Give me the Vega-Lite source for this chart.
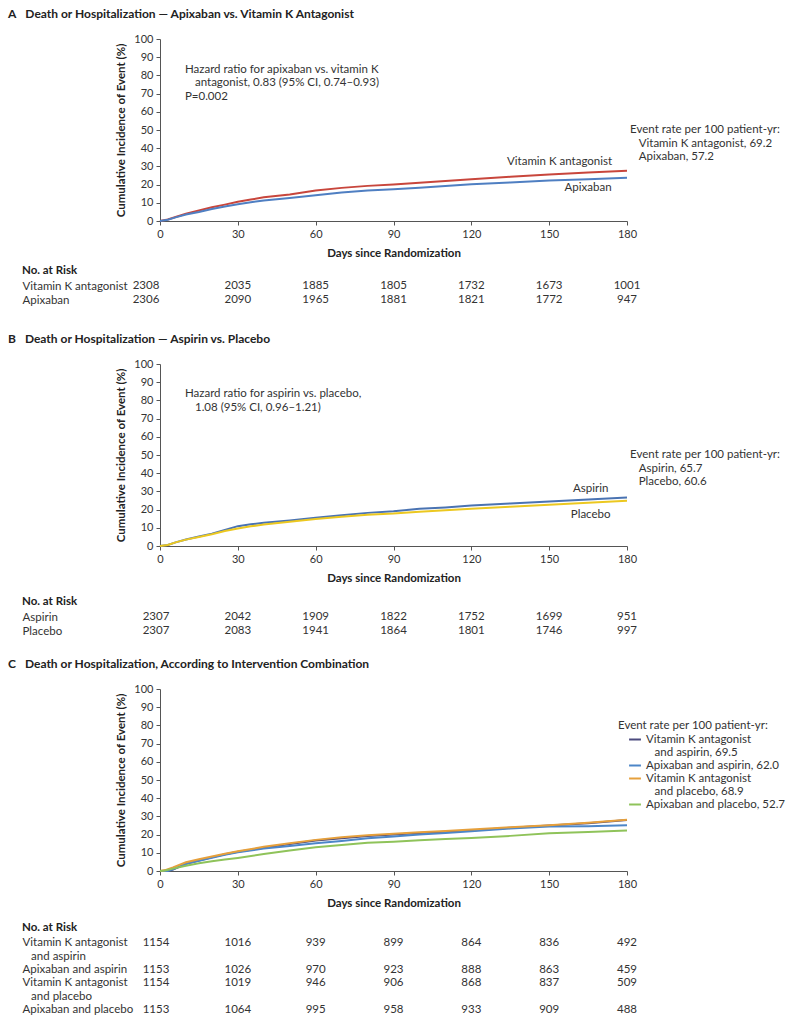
{
  "$schema": "https://vega.github.io/schema/vega-lite/v6.json",
  "background": "white",
  "padding": {"left": 8, "top": 8, "right": 5, "bottom": 5},
  "config": {
    "font": "Lato",
    "view": {"stroke": null},
    "axis": {"labelFont": "Lato", "labelFontSize": 11, "labelColor": "#333", "titleFont": "Lato", "titleFontSize": 11.5, "titleFontWeight": "bold", "titleColor": "#222", "domainColor": "#555", "tickColor": "#555", "tickSize": 4, "grid": false, "labelPadding": 3, "labelFlush": false},
    "axisX": {"titlePadding": 8},
    "axisY": {"titlePadding": 7},
    "title": {"font": "Lato", "fontSize": 12, "fontWeight": "bold", "color": "#222", "anchor": "start", "frame": "group"},
    "text": {"font": "Lato", "fontSize": 11.5, "color": "#333"}
  },
  "datasets": {
    "note": [{}],
    "curvesA": [
      {"group": "Vitamin K antagonist", "day": 0, "pct": 0}, {"group": "Vitamin K antagonist", "day": 3, "pct": 0.8}, {"group": "Vitamin K antagonist", "day": 6, "pct": 2.2}, {"group": "Vitamin K antagonist", "day": 10, "pct": 4.0}, {"group": "Vitamin K antagonist", "day": 15, "pct": 5.8}, {"group": "Vitamin K antagonist", "day": 20, "pct": 7.5}, {"group": "Vitamin K antagonist", "day": 25, "pct": 9.0}, {"group": "Vitamin K antagonist", "day": 30, "pct": 10.6}, {"group": "Vitamin K antagonist", "day": 35, "pct": 11.8}, {"group": "Vitamin K antagonist", "day": 40, "pct": 13.0}, {"group": "Vitamin K antagonist", "day": 50, "pct": 14.5}, {"group": "Vitamin K antagonist", "day": 60, "pct": 16.7}, {"group": "Vitamin K antagonist", "day": 70, "pct": 18.2}, {"group": "Vitamin K antagonist", "day": 80, "pct": 19.3}, {"group": "Vitamin K antagonist", "day": 90, "pct": 20.0}, {"group": "Vitamin K antagonist", "day": 100, "pct": 21.0}, {"group": "Vitamin K antagonist", "day": 110, "pct": 22.0}, {"group": "Vitamin K antagonist", "day": 120, "pct": 22.9}, {"group": "Vitamin K antagonist", "day": 135, "pct": 24.3}, {"group": "Vitamin K antagonist", "day": 150, "pct": 25.5}, {"group": "Vitamin K antagonist", "day": 165, "pct": 26.6}, {"group": "Vitamin K antagonist", "day": 180, "pct": 27.6},
      {"group": "Apixaban", "day": 0, "pct": 0}, {"group": "Apixaban", "day": 3, "pct": 0.7}, {"group": "Apixaban", "day": 6, "pct": 2.0}, {"group": "Apixaban", "day": 10, "pct": 3.6}, {"group": "Apixaban", "day": 15, "pct": 5.0}, {"group": "Apixaban", "day": 20, "pct": 6.6}, {"group": "Apixaban", "day": 25, "pct": 8.0}, {"group": "Apixaban", "day": 30, "pct": 9.2}, {"group": "Apixaban", "day": 35, "pct": 10.3}, {"group": "Apixaban", "day": 40, "pct": 11.3}, {"group": "Apixaban", "day": 50, "pct": 12.6}, {"group": "Apixaban", "day": 60, "pct": 14.1}, {"group": "Apixaban", "day": 70, "pct": 15.6}, {"group": "Apixaban", "day": 80, "pct": 16.7}, {"group": "Apixaban", "day": 90, "pct": 17.4}, {"group": "Apixaban", "day": 100, "pct": 18.3}, {"group": "Apixaban", "day": 110, "pct": 19.2}, {"group": "Apixaban", "day": 120, "pct": 20.2}, {"group": "Apixaban", "day": 135, "pct": 21.2}, {"group": "Apixaban", "day": 150, "pct": 22.2}, {"group": "Apixaban", "day": 165, "pct": 23.0}, {"group": "Apixaban", "day": 180, "pct": 23.7}
    ],
    "curvesB": [
      {"group": "Aspirin", "day": 0, "pct": 0}, {"group": "Aspirin", "day": 3, "pct": 0.6}, {"group": "Aspirin", "day": 6, "pct": 2.0}, {"group": "Aspirin", "day": 10, "pct": 3.6}, {"group": "Aspirin", "day": 15, "pct": 5.2}, {"group": "Aspirin", "day": 20, "pct": 6.8}, {"group": "Aspirin", "day": 25, "pct": 8.8}, {"group": "Aspirin", "day": 30, "pct": 10.9}, {"group": "Aspirin", "day": 35, "pct": 11.9}, {"group": "Aspirin", "day": 40, "pct": 12.8}, {"group": "Aspirin", "day": 50, "pct": 14.0}, {"group": "Aspirin", "day": 60, "pct": 15.5}, {"group": "Aspirin", "day": 70, "pct": 16.9}, {"group": "Aspirin", "day": 80, "pct": 18.2}, {"group": "Aspirin", "day": 90, "pct": 19.1}, {"group": "Aspirin", "day": 100, "pct": 20.4}, {"group": "Aspirin", "day": 110, "pct": 21.2}, {"group": "Aspirin", "day": 120, "pct": 22.2}, {"group": "Aspirin", "day": 135, "pct": 23.4}, {"group": "Aspirin", "day": 150, "pct": 24.5}, {"group": "Aspirin", "day": 165, "pct": 25.5}, {"group": "Aspirin", "day": 180, "pct": 26.7},
      {"group": "Placebo", "day": 0, "pct": 0}, {"group": "Placebo", "day": 3, "pct": 0.6}, {"group": "Placebo", "day": 6, "pct": 2.0}, {"group": "Placebo", "day": 10, "pct": 3.5}, {"group": "Placebo", "day": 15, "pct": 5.0}, {"group": "Placebo", "day": 20, "pct": 6.5}, {"group": "Placebo", "day": 25, "pct": 8.2}, {"group": "Placebo", "day": 30, "pct": 9.6}, {"group": "Placebo", "day": 35, "pct": 10.8}, {"group": "Placebo", "day": 40, "pct": 11.8}, {"group": "Placebo", "day": 50, "pct": 13.3}, {"group": "Placebo", "day": 60, "pct": 14.9}, {"group": "Placebo", "day": 70, "pct": 16.1}, {"group": "Placebo", "day": 80, "pct": 17.2}, {"group": "Placebo", "day": 90, "pct": 17.8}, {"group": "Placebo", "day": 100, "pct": 18.8}, {"group": "Placebo", "day": 110, "pct": 19.7}, {"group": "Placebo", "day": 120, "pct": 20.5}, {"group": "Placebo", "day": 135, "pct": 21.6}, {"group": "Placebo", "day": 150, "pct": 22.7}, {"group": "Placebo", "day": 165, "pct": 23.8}, {"group": "Placebo", "day": 180, "pct": 24.9}
    ],
    "curvesC": [
      {"group": "Vitamin K antagonist and aspirin", "day": 0, "pct": 0}, {"group": "Vitamin K antagonist and aspirin", "day": 3, "pct": 0}, {"group": "Vitamin K antagonist and aspirin", "day": 5, "pct": 0.8}, {"group": "Vitamin K antagonist and aspirin", "day": 10, "pct": 3.9}, {"group": "Vitamin K antagonist and aspirin", "day": 15, "pct": 5.8}, {"group": "Vitamin K antagonist and aspirin", "day": 20, "pct": 7.5}, {"group": "Vitamin K antagonist and aspirin", "day": 25, "pct": 9.2}, {"group": "Vitamin K antagonist and aspirin", "day": 30, "pct": 10.6}, {"group": "Vitamin K antagonist and aspirin", "day": 40, "pct": 12.8}, {"group": "Vitamin K antagonist and aspirin", "day": 50, "pct": 14.8}, {"group": "Vitamin K antagonist and aspirin", "day": 60, "pct": 16.7}, {"group": "Vitamin K antagonist and aspirin", "day": 70, "pct": 18.0}, {"group": "Vitamin K antagonist and aspirin", "day": 80, "pct": 19.2}, {"group": "Vitamin K antagonist and aspirin", "day": 90, "pct": 20.0}, {"group": "Vitamin K antagonist and aspirin", "day": 100, "pct": 20.9}, {"group": "Vitamin K antagonist and aspirin", "day": 110, "pct": 21.6}, {"group": "Vitamin K antagonist and aspirin", "day": 120, "pct": 22.2}, {"group": "Vitamin K antagonist and aspirin", "day": 135, "pct": 23.8}, {"group": "Vitamin K antagonist and aspirin", "day": 150, "pct": 25.0}, {"group": "Vitamin K antagonist and aspirin", "day": 165, "pct": 26.3}, {"group": "Vitamin K antagonist and aspirin", "day": 180, "pct": 28.0},
      {"group": "Apixaban and aspirin", "day": 0, "pct": 0}, {"group": "Apixaban and aspirin", "day": 3, "pct": 0}, {"group": "Apixaban and aspirin", "day": 5, "pct": 0.9}, {"group": "Apixaban and aspirin", "day": 10, "pct": 3.9}, {"group": "Apixaban and aspirin", "day": 15, "pct": 5.6}, {"group": "Apixaban and aspirin", "day": 20, "pct": 7.2}, {"group": "Apixaban and aspirin", "day": 25, "pct": 8.9}, {"group": "Apixaban and aspirin", "day": 30, "pct": 10.3}, {"group": "Apixaban and aspirin", "day": 40, "pct": 12.3}, {"group": "Apixaban and aspirin", "day": 50, "pct": 13.8}, {"group": "Apixaban and aspirin", "day": 60, "pct": 15.2}, {"group": "Apixaban and aspirin", "day": 70, "pct": 16.5}, {"group": "Apixaban and aspirin", "day": 80, "pct": 18.0}, {"group": "Apixaban and aspirin", "day": 90, "pct": 18.9}, {"group": "Apixaban and aspirin", "day": 100, "pct": 20.0}, {"group": "Apixaban and aspirin", "day": 110, "pct": 20.9}, {"group": "Apixaban and aspirin", "day": 120, "pct": 21.8}, {"group": "Apixaban and aspirin", "day": 135, "pct": 23.3}, {"group": "Apixaban and aspirin", "day": 150, "pct": 24.4}, {"group": "Apixaban and aspirin", "day": 165, "pct": 24.6}, {"group": "Apixaban and aspirin", "day": 180, "pct": 25.1},
      {"group": "Vitamin K antagonist and placebo", "day": 0, "pct": 0}, {"group": "Vitamin K antagonist and placebo", "day": 2, "pct": 0.5}, {"group": "Vitamin K antagonist and placebo", "day": 5, "pct": 2.0}, {"group": "Vitamin K antagonist and placebo", "day": 10, "pct": 4.8}, {"group": "Vitamin K antagonist and placebo", "day": 15, "pct": 6.5}, {"group": "Vitamin K antagonist and placebo", "day": 20, "pct": 8.0}, {"group": "Vitamin K antagonist and placebo", "day": 25, "pct": 9.5}, {"group": "Vitamin K antagonist and placebo", "day": 30, "pct": 10.8}, {"group": "Vitamin K antagonist and placebo", "day": 40, "pct": 13.3}, {"group": "Vitamin K antagonist and placebo", "day": 50, "pct": 15.3}, {"group": "Vitamin K antagonist and placebo", "day": 60, "pct": 17.1}, {"group": "Vitamin K antagonist and placebo", "day": 70, "pct": 18.5}, {"group": "Vitamin K antagonist and placebo", "day": 80, "pct": 19.6}, {"group": "Vitamin K antagonist and placebo", "day": 90, "pct": 20.4}, {"group": "Vitamin K antagonist and placebo", "day": 100, "pct": 21.3}, {"group": "Vitamin K antagonist and placebo", "day": 110, "pct": 22.0}, {"group": "Vitamin K antagonist and placebo", "day": 120, "pct": 22.8}, {"group": "Vitamin K antagonist and placebo", "day": 135, "pct": 24.0}, {"group": "Vitamin K antagonist and placebo", "day": 150, "pct": 25.2}, {"group": "Vitamin K antagonist and placebo", "day": 165, "pct": 26.5}, {"group": "Vitamin K antagonist and placebo", "day": 180, "pct": 28.1},
      {"group": "Apixaban and placebo", "day": 0, "pct": 0}, {"group": "Apixaban and placebo", "day": 2, "pct": 0.3}, {"group": "Apixaban and placebo", "day": 5, "pct": 1.3}, {"group": "Apixaban and placebo", "day": 10, "pct": 2.9}, {"group": "Apixaban and placebo", "day": 15, "pct": 4.2}, {"group": "Apixaban and placebo", "day": 20, "pct": 5.3}, {"group": "Apixaban and placebo", "day": 25, "pct": 6.3}, {"group": "Apixaban and placebo", "day": 30, "pct": 7.2}, {"group": "Apixaban and placebo", "day": 40, "pct": 9.3}, {"group": "Apixaban and placebo", "day": 50, "pct": 11.3}, {"group": "Apixaban and placebo", "day": 60, "pct": 13.0}, {"group": "Apixaban and placebo", "day": 70, "pct": 14.3}, {"group": "Apixaban and placebo", "day": 80, "pct": 15.5}, {"group": "Apixaban and placebo", "day": 90, "pct": 16.1}, {"group": "Apixaban and placebo", "day": 100, "pct": 16.9}, {"group": "Apixaban and placebo", "day": 110, "pct": 17.6}, {"group": "Apixaban and placebo", "day": 120, "pct": 18.2}, {"group": "Apixaban and placebo", "day": 135, "pct": 19.3}, {"group": "Apixaban and placebo", "day": 150, "pct": 20.7}, {"group": "Apixaban and placebo", "day": 165, "pct": 21.4}, {"group": "Apixaban and placebo", "day": 180, "pct": 22.2}
    ],
    "riskA": [
      {"group": "Vitamin K antagonist", "day": 0, "n": 2308}, {"group": "Vitamin K antagonist", "day": 30, "n": 2035}, {"group": "Vitamin K antagonist", "day": 60, "n": 1885}, {"group": "Vitamin K antagonist", "day": 90, "n": 1805}, {"group": "Vitamin K antagonist", "day": 120, "n": 1732}, {"group": "Vitamin K antagonist", "day": 150, "n": 1673}, {"group": "Vitamin K antagonist", "day": 180, "n": 1001},
      {"group": "Apixaban", "day": 0, "n": 2306}, {"group": "Apixaban", "day": 30, "n": 2090}, {"group": "Apixaban", "day": 60, "n": 1965}, {"group": "Apixaban", "day": 90, "n": 1881}, {"group": "Apixaban", "day": 120, "n": 1821}, {"group": "Apixaban", "day": 150, "n": 1772}, {"group": "Apixaban", "day": 180, "n": 947}
    ],
    "riskB": [
      {"group": "Aspirin", "day": 0, "n": 2307}, {"group": "Aspirin", "day": 30, "n": 2042}, {"group": "Aspirin", "day": 60, "n": 1909}, {"group": "Aspirin", "day": 90, "n": 1822}, {"group": "Aspirin", "day": 120, "n": 1752}, {"group": "Aspirin", "day": 150, "n": 1699}, {"group": "Aspirin", "day": 180, "n": 951},
      {"group": "Placebo", "day": 0, "n": 2307}, {"group": "Placebo", "day": 30, "n": 2083}, {"group": "Placebo", "day": 60, "n": 1941}, {"group": "Placebo", "day": 90, "n": 1864}, {"group": "Placebo", "day": 120, "n": 1801}, {"group": "Placebo", "day": 150, "n": 1746}, {"group": "Placebo", "day": 180, "n": 997}
    ],
    "riskC": [
      {"group": "Vitamin K antagonist and aspirin", "day": 0, "n": 1154}, {"group": "Vitamin K antagonist and aspirin", "day": 30, "n": 1016}, {"group": "Vitamin K antagonist and aspirin", "day": 60, "n": 939}, {"group": "Vitamin K antagonist and aspirin", "day": 90, "n": 899}, {"group": "Vitamin K antagonist and aspirin", "day": 120, "n": 864}, {"group": "Vitamin K antagonist and aspirin", "day": 150, "n": 836}, {"group": "Vitamin K antagonist and aspirin", "day": 180, "n": 492},
      {"group": "Apixaban and aspirin", "day": 0, "n": 1153}, {"group": "Apixaban and aspirin", "day": 30, "n": 1026}, {"group": "Apixaban and aspirin", "day": 60, "n": 970}, {"group": "Apixaban and aspirin", "day": 90, "n": 923}, {"group": "Apixaban and aspirin", "day": 120, "n": 888}, {"group": "Apixaban and aspirin", "day": 150, "n": 863}, {"group": "Apixaban and aspirin", "day": 180, "n": 459},
      {"group": "Vitamin K antagonist and placebo", "day": 0, "n": 1154}, {"group": "Vitamin K antagonist and placebo", "day": 30, "n": 1019}, {"group": "Vitamin K antagonist and placebo", "day": 60, "n": 946}, {"group": "Vitamin K antagonist and placebo", "day": 90, "n": 906}, {"group": "Vitamin K antagonist and placebo", "day": 120, "n": 868}, {"group": "Vitamin K antagonist and placebo", "day": 150, "n": 837}, {"group": "Vitamin K antagonist and placebo", "day": 180, "n": 509},
      {"group": "Apixaban and placebo", "day": 0, "n": 1153}, {"group": "Apixaban and placebo", "day": 30, "n": 1064}, {"group": "Apixaban and placebo", "day": 60, "n": 995}, {"group": "Apixaban and placebo", "day": 90, "n": 958}, {"group": "Apixaban and placebo", "day": 120, "n": 933}, {"group": "Apixaban and placebo", "day": 150, "n": 909}, {"group": "Apixaban and placebo", "day": 180, "n": 488}
    ]
  },
  "resolve": {"scale": {"color": "independent", "x": "independent", "y": "independent"}},
  "spacing": 26,
  "vconcat": [
    {
      "resolve": {"scale": {"color": "independent", "x": "independent", "y": "independent"}},
      "spacing": 5,
      "vconcat": [
        {
          "width": 467,
          "height": 182,
          "title": {"text": "A\u2003Death or Hospitalization \u2014 Apixaban vs. Vitamin K Antagonist", "dx": -152, "offset": 12},
          "layer": [
            {
              "data": {"name": "curvesA"},
              "mark": {"type": "line", "strokeWidth": 2},
              "encoding": {
                "x": {"field": "day", "type": "quantitative", "scale": {"domain": [0, 180], "nice": false}, "axis": {"values": [0, 30, 60, 90, 120, 150, 180], "title": "Days since Randomization"}},
                "y": {"field": "pct", "type": "quantitative", "scale": {"domain": [0, 100], "nice": false}, "axis": {"values": [0, 10, 20, 30, 40, 50, 60, 70, 80, 90, 100], "title": "Cumulative Incidence of Event (%)"}},
                "color": {"field": "group", "type": "nominal", "scale": {"domain": ["Vitamin K antagonist", "Apixaban"], "range": ["#c8463c", "#4f7fc2"]}, "legend": null}
              }
            },
            {
              "data": {"name": "note"},
              "mark": {"type": "text", "align": "left", "baseline": "top", "lineHeight": 13.5, "text": ["Hazard ratio for apixaban vs. vitamin K", "\u200b\u2003\u2009antagonist, 0.83 (95% CI, 0.74\u20130.93)", "P=0.002"]},
              "encoding": {
                "x": {"datum": 9.6, "type": "quantitative", "axis": {"values": [0, 30, 60, 90, 120, 150, 180], "title": "Days since Randomization"}},
                "y": {"datum": 86.3, "type": "quantitative", "axis": {"values": [0, 10, 20, 30, 40, 50, 60, 70, 80, 90, 100], "title": "Cumulative Incidence of Event (%)"}}
              }
            },
            {
              "data": {"name": "note"},
              "mark": {"type": "text", "align": "left", "baseline": "top", "lineHeight": 13.5, "text": ["Event rate per 100 patient-yr:", "\u200b\u2003Vitamin K antagonist, 69.2", "\u200b\u2003Apixaban, 57.2"]},
              "encoding": {
                "x": {"datum": 181.2, "type": "quantitative", "axis": {"values": [0, 30, 60, 90, 120, 150, 180], "title": "Days since Randomization"}},
                "y": {"datum": 53.2, "type": "quantitative", "axis": {"values": [0, 10, 20, 30, 40, 50, 60, 70, 80, 90, 100], "title": "Cumulative Incidence of Event (%)"}}
              }
            },
            {
              "data": {"name": "note"},
              "mark": {"type": "text", "align": "center", "baseline": "middle", "text": "Vitamin K antagonist"},
              "encoding": {
                "x": {"datum": 154, "type": "quantitative", "axis": {"values": [0, 30, 60, 90, 120, 150, 180], "title": "Days since Randomization"}},
                "y": {"datum": 32.5, "type": "quantitative", "axis": {"values": [0, 10, 20, 30, 40, 50, 60, 70, 80, 90, 100], "title": "Cumulative Incidence of Event (%)"}}
              }
            },
            {
              "data": {"name": "note"},
              "mark": {"type": "text", "align": "center", "baseline": "middle", "text": "Apixaban"},
              "encoding": {
                "x": {"datum": 165, "type": "quantitative", "axis": {"values": [0, 30, 60, 90, 120, 150, 180], "title": "Days since Randomization"}},
                "y": {"datum": 18.2, "type": "quantitative", "axis": {"values": [0, 10, 20, 30, 40, 50, 60, 70, 80, 90, 100], "title": "Cumulative Incidence of Event (%)"}}
              }
            }
          ]
        },
        {
          "width": 467,
          "height": {"step": 14},
          "title": {"text": "No. at Risk", "dx": -138, "offset": 3, "fontSize": 11.5},
          "data": {"name": "riskA"},
          "encoding": {
            "x": {"field": "day", "type": "quantitative", "scale": {"domain": [0, 180], "nice": false}, "axis": null},
            "y": {"field": "group", "type": "nominal", "scale": {"domain": ["Vitamin K antagonist", "Apixaban"]}, "axis": {"title": null, "domain": false, "ticks": false, "tickSize": 0, "labelAlign": "left", "labelPadding": 138, "labelFontSize": 11.5}},
            "text": {"field": "n", "type": "quantitative", "format": "d"}
          },
          "layer": [
            {"transform": [{"filter": "datum.day == 0"}], "mark": {"type": "text", "align": "center", "dx": -14}},
            {"transform": [{"filter": "datum.day > 0"}], "mark": {"type": "text", "align": "center"}}
          ]
        }
      ]
    },
    {
      "resolve": {"scale": {"color": "independent", "x": "independent", "y": "independent"}},
      "spacing": 20,
      "vconcat": [
        {
          "resolve": {"scale": {"color": "independent", "x": "independent", "y": "independent"}},
          "spacing": 11,
          "vconcat": [
            {
              "width": 467,
              "height": 182,
              "title": {"text": "B\u2003Death or Hospitalization \u2014 Aspirin vs. Placebo", "dx": -152, "offset": 12},
              "layer": [
                {
                  "data": {"name": "curvesB"},
                  "mark": {"type": "line", "strokeWidth": 2},
                  "encoding": {
                    "x": {"field": "day", "type": "quantitative", "scale": {"domain": [0, 180], "nice": false}, "axis": {"values": [0, 30, 60, 90, 120, 150, 180], "title": "Days since Randomization"}},
                    "y": {"field": "pct", "type": "quantitative", "scale": {"domain": [0, 100], "nice": false}, "axis": {"values": [0, 10, 20, 30, 40, 50, 60, 70, 80, 90, 100], "title": "Cumulative Incidence of Event (%)"}},
                    "color": {"field": "group", "type": "nominal", "scale": {"domain": ["Aspirin", "Placebo"], "range": ["#4a73b2", "#ecc820"]}, "legend": null}
                  }
                },
                {
                  "data": {"name": "note"},
                  "mark": {"type": "text", "align": "left", "baseline": "top", "lineHeight": 13.5, "text": ["Hazard ratio for aspirin vs. placebo,", "\u200b\u2003\u20091.08 (95% CI, 0.96\u20131.21)"]},
                  "encoding": {
                    "x": {"datum": 9.6, "type": "quantitative", "axis": {"values": [0, 30, 60, 90, 120, 150, 180], "title": "Days since Randomization"}},
                    "y": {"datum": 86.6, "type": "quantitative", "axis": {"values": [0, 10, 20, 30, 40, 50, 60, 70, 80, 90, 100], "title": "Cumulative Incidence of Event (%)"}}
                  }
                },
                {
                  "data": {"name": "note"},
                  "mark": {"type": "text", "align": "left", "baseline": "top", "lineHeight": 13.5, "text": ["Event rate per 100 patient-yr:", "\u200b\u2003Aspirin, 65.7", "\u200b\u2003Placebo, 60.6"]},
                  "encoding": {
                    "x": {"datum": 181.2, "type": "quantitative", "axis": {"values": [0, 30, 60, 90, 120, 150, 180], "title": "Days since Randomization"}},
                    "y": {"datum": 53.2, "type": "quantitative", "axis": {"values": [0, 10, 20, 30, 40, 50, 60, 70, 80, 90, 100], "title": "Cumulative Incidence of Event (%)"}}
                  }
                },
                {
                  "data": {"name": "note"},
                  "mark": {"type": "text", "align": "center", "baseline": "middle", "text": "Aspirin"},
                  "encoding": {
                    "x": {"datum": 166, "type": "quantitative", "axis": {"values": [0, 30, 60, 90, 120, 150, 180], "title": "Days since Randomization"}},
                    "y": {"datum": 31.5, "type": "quantitative", "axis": {"values": [0, 10, 20, 30, 40, 50, 60, 70, 80, 90, 100], "title": "Cumulative Incidence of Event (%)"}}
                  }
                },
                {
                  "data": {"name": "note"},
                  "mark": {"type": "text", "align": "center", "baseline": "middle", "text": "Placebo"},
                  "encoding": {
                    "x": {"datum": 166, "type": "quantitative", "axis": {"values": [0, 30, 60, 90, 120, 150, 180], "title": "Days since Randomization"}},
                    "y": {"datum": 17, "type": "quantitative", "axis": {"values": [0, 10, 20, 30, 40, 50, 60, 70, 80, 90, 100], "title": "Cumulative Incidence of Event (%)"}}
                  }
                }
              ]
            },
            {
              "width": 467,
              "height": {"step": 14},
              "title": {"text": "No. at Risk", "dx": -138, "offset": 3, "fontSize": 11.5},
              "data": {"name": "riskB"},
              "encoding": {
                "x": {"field": "day", "type": "quantitative", "scale": {"domain": [0, 180], "nice": false}, "axis": null},
                "y": {"field": "group", "type": "nominal", "scale": {"domain": ["Aspirin", "Placebo"]}, "axis": {"title": null, "domain": false, "ticks": false, "tickSize": 0, "labelAlign": "left", "labelPadding": 138, "labelFontSize": 11.5}},
                "text": {"field": "n", "type": "quantitative", "format": "d"}
              },
              "layer": [
                {"transform": [{"filter": "datum.day == 0"}], "mark": {"type": "text", "align": "center", "dx": -4}},
                {"transform": [{"filter": "datum.day > 0"}], "mark": {"type": "text", "align": "center"}}
              ]
            }
          ]
        },
        {
          "resolve": {"scale": {"color": "independent", "x": "independent", "y": "independent"}},
          "spacing": 12,
          "vconcat": [
            {
              "width": 467,
              "height": 182,
              "title": {"text": "C\u2003Death or Hospitalization, According to Intervention Combination", "dx": -152, "offset": 12},
              "layer": [
                {
                  "data": {"name": "curvesC"},
                  "mark": {"type": "line", "strokeWidth": 2},
                  "encoding": {
                    "x": {"field": "day", "type": "quantitative", "scale": {"domain": [0, 180], "nice": false}, "axis": {"values": [0, 30, 60, 90, 120, 150, 180], "title": "Days since Randomization"}},
                    "y": {"field": "pct", "type": "quantitative", "scale": {"domain": [0, 100], "nice": false}, "axis": {"values": [0, 10, 20, 30, 40, 50, 60, 70, 80, 90, 100], "title": "Cumulative Incidence of Event (%)"}},
                    "color": {
                      "field": "group", "type": "nominal",
                      "scale": {"domain": ["Vitamin K antagonist and aspirin", "Apixaban and aspirin", "Vitamin K antagonist and placebo", "Apixaban and placebo"], "range": ["#4b4a7e", "#4c86c8", "#e6a03c", "#8fc35a"]},
                      "legend": {
                        "orient": "none", "legendX": 458, "legendY": 31,
                        "title": "Event rate per 100 patient-yr:", "titleFontWeight": "normal", "titleFontSize": 11.5, "titleColor": "#333", "titleFont": "Lato", "titlePadding": 1,
                        "labelFont": "Lato", "labelFontSize": 11.5, "labelColor": "#333", "labelLimit": 300, "labelLineHeight": 13,
                        "labelExpr": "datum.label == 'Vitamin K antagonist and aspirin' ? ['Vitamin K antagonist', '\u200b\u2003and aspirin, 69.5'] : datum.label == 'Apixaban and aspirin' ? 'Apixaban and aspirin, 62.0' : datum.label == 'Vitamin K antagonist and placebo' ? ['Vitamin K antagonist', '\u200b\u2003and placebo, 68.9'] : 'Apixaban and placebo, 52.7'",
                        "symbolType": "stroke", "symbolStrokeWidth": 2, "symbolSize": 140, "symbolOffset": 10, "rowPadding": 0, "labelOffset": 4
                      }
                    }
                  }
                }
              ]
            },
            {
              "width": 467,
              "height": {"step": 13.4},
              "title": {"text": "No. at Risk", "dx": -138, "offset": 3, "fontSize": 11.5},
              "data": {"name": "riskC"},
              "encoding": {
                "x": {"field": "day", "type": "quantitative", "scale": {"domain": [0, 180], "nice": false}, "axis": null},
                "y": {"field": "group", "type": "nominal", "scale": {"domain": ["Vitamin K antagonist and aspirin", "and aspirin", "Apixaban and aspirin", "Vitamin K antagonist and placebo", "and placebo", "Apixaban and placebo"]}, "axis": {"title": null, "domain": false, "ticks": false, "tickSize": 0, "labelAlign": "left", "labelPadding": 138, "labelFontSize": 11.5, "labelExpr": "indexof(datum.value, 'Vitamin K antagonist') == 0 ? 'Vitamin K antagonist' : indexof(datum.value, 'and ') == 0 ? '\u200b\u2003' + datum.value : datum.value"}},
                "text": {"field": "n", "type": "quantitative", "format": "d"}
              },
              "layer": [
                {"transform": [{"filter": "datum.day == 0"}], "mark": {"type": "text", "align": "center", "dx": -4}},
                {"transform": [{"filter": "datum.day > 0"}], "mark": {"type": "text", "align": "center"}}
              ]
            }
          ]
        }
      ]
    }
  ]
}
